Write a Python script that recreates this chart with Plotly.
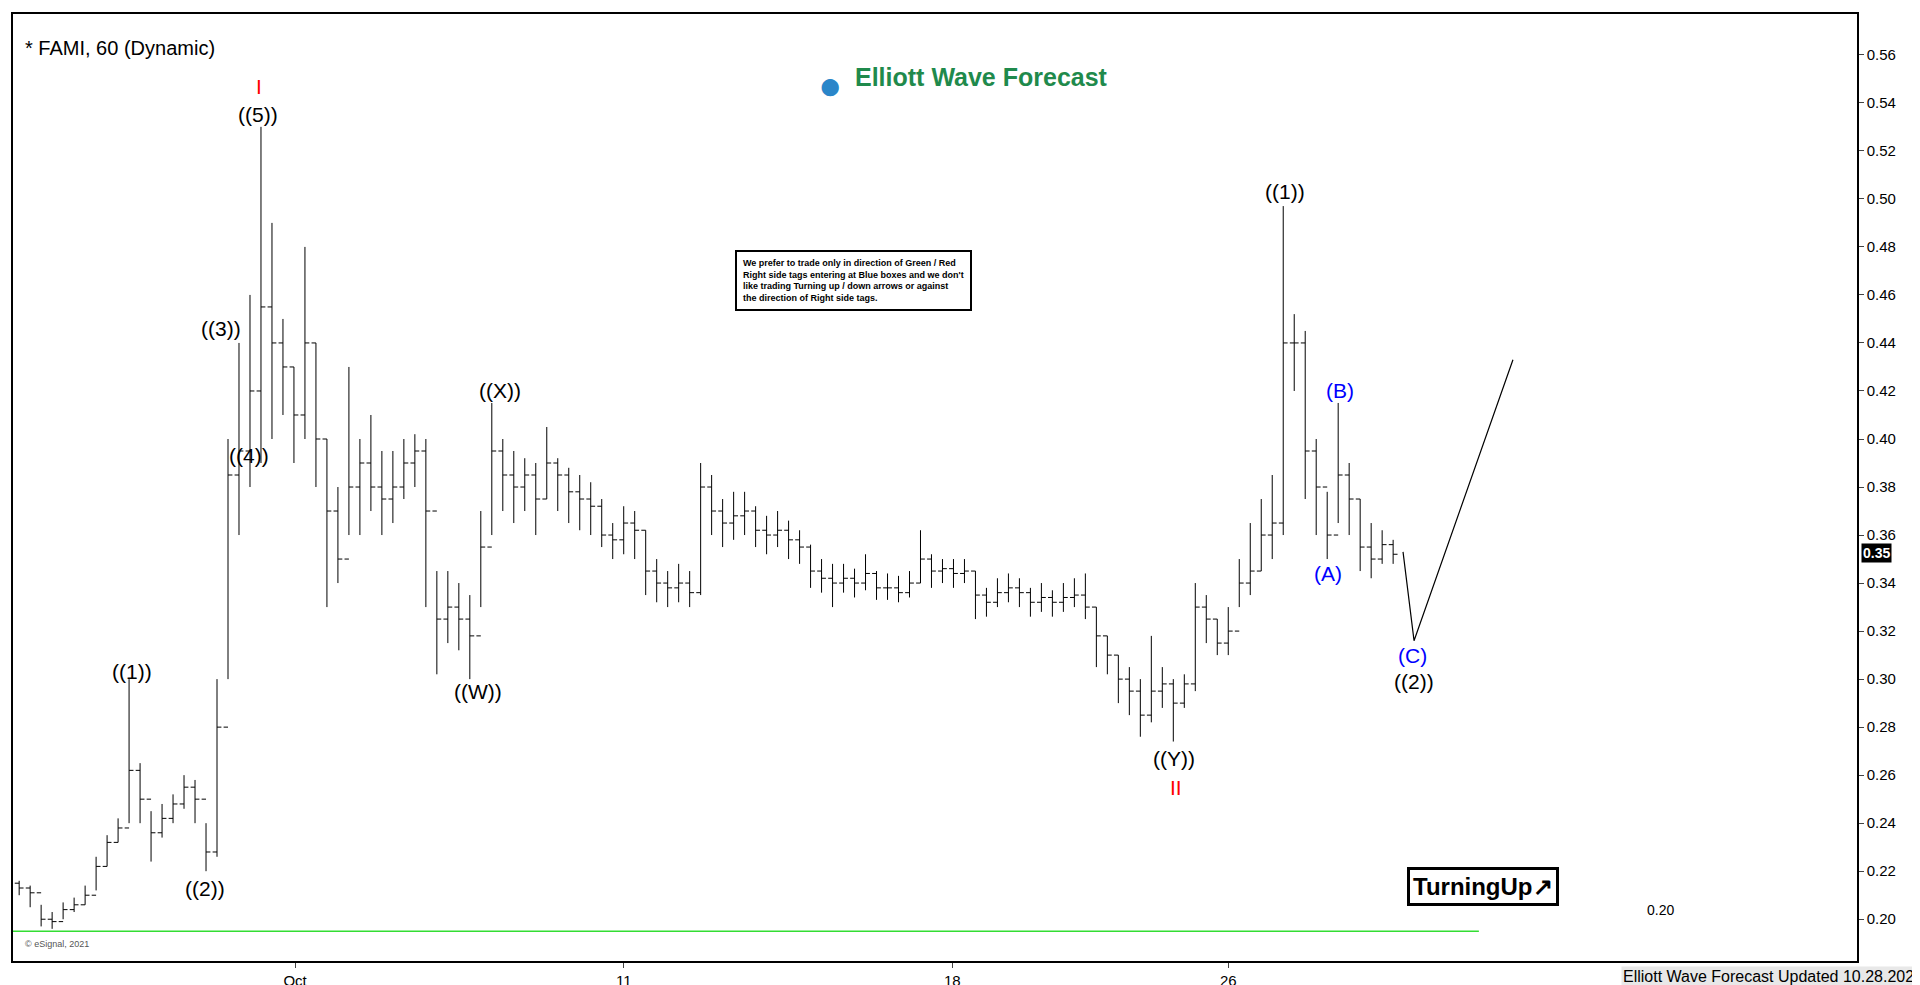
import plotly.graph_objects as go

close = [.213,.211,.200,.199,.204,.206,.210,.222,.232,.238,.262,.250,.236,.242,.248,.255,.250,.228,.280,.385,
.395,.420,.455,.440,.430,.410,.440,.400,.370,.350,.380,.390,.380,.375,.380,.390,.395,.370,.325,.330,
.325,.318,.355,.395,.385,.380,.385,.375,.390,.385,.378,.375,.372,.360,.358,.365,.362,.345,.340,.338,
.340,.336,.380,.370,.365,.368,.370,.362,.360,.362,.358,.355,.345,.342,.340,.342,.340,.344,.338,.338,
.336,.340,.350,.345,.346,.344,.345,.335,.332,.336,.338,.336,.332,.334,.332,.334,.335,.330,.318,.310,
.300,.295,.285,.295,.298,.290,.298,.330,.325,.315,.320,.340,.345,.360,.365,.440,.440,.395,.380,.360,
.385,.375,.355,.350,.356,.352]
high = [.216,.214,.206,.203,.207,.209,.214,.226,.235,.242,.300,.265,.245,.248,.252,.260,.258,.240,.300,.400,
.440,.460,.530,.490,.450,.430,.480,.440,.400,.380,.430,.400,.410,.395,.395,.400,.402,.400,.345,.345,
.340,.335,.370,.415,.400,.395,.392,.390,.405,.392,.388,.385,.382,.375,.365,.372,.370,.362,.350,.345,
.348,.345,.390,.385,.375,.378,.378,.372,.368,.370,.366,.362,.356,.350,.348,.348,.346,.352,.345,.344,
.343,.345,.362,.352,.350,.350,.350,.345,.338,.342,.344,.342,.338,.340,.337,.340,.342,.344,.330,.318,
.310,.305,.300,.318,.305,.300,.302,.340,.335,.325,.330,.350,.365,.375,.385,.497,.452,.445,.400,.378,
.415,.390,.375,.365,.362,.358]
low = [.210,.205,.197,.196,.200,.203,.206,.212,.222,.232,.240,.240,.224,.234,.240,.246,.240,.220,.226,.300,
.360,.380,.390,.400,.410,.390,.400,.380,.330,.340,.360,.360,.370,.360,.365,.375,.380,.330,.302,.315,
.312,.300,.330,.360,.370,.365,.370,.360,.375,.370,.365,.362,.360,.355,.350,.352,.350,.335,.332,.330,
.332,.330,.335,.360,.355,.358,.360,.355,.352,.355,.350,.348,.338,.336,.330,.336,.334,.337,.333,.333,
.332,.334,.340,.338,.340,.338,.340,.325,.326,.330,.332,.330,.326,.328,.326,.328,.330,.325,.305,.302,
.290,.285,.276,.282,.288,.274,.288,.295,.315,.310,.310,.330,.335,.345,.350,.360,.420,.375,.360,.350,
.365,.360,.345,.342,.348,.348]
opens = [.215] + close[:-1]
idx = list(range(len(close)))

tick_pos = [25.1, 55.0, 84.9, 110.0]
tick_text = ["Oct", "11", "18", "26"]
yticks = [0.20,0.22,0.24,0.26,0.28,0.30,0.32,0.34,0.36,0.38,0.40,0.42,0.44,0.46,0.48,0.50,0.52,0.54,0.56]

labels = [
    (21.8, .547, "I", "red"), (21.7, .535, "((5))", "black"), (18.4, .446, "((3))", "black"),
    (20.9, .393, "((4))", "black"), (10.3, .303, "((1))", "black"), (16.9, .213, "((2))", "black"),
    (41.7, .295, "((W))", "black"), (43.7, .420, "((X))", "black"), (105.1, .267, "((Y))", "black"),
    (105.2, .255, "II", "red"), (115.2, .503, "((1))", "black"), (120.2, .420, "(B)", "blue"),
    (119.1, .344, "(A)", "blue"), (126.8, .310, "(C)", "blue"), (126.9, .299, "((2))", "black"),
]
proj_x = [125.9, 126.9, 135.9]
proj_y = [0.353, 0.316, 0.433]

fig = go.Figure()
fig.add_trace(go.Ohlc(x=idx, open=opens, high=high, low=low, close=close,
                      increasing_line_color="black", decreasing_line_color="black",
                      line_width=1, tickwidth=0.4, showlegend=False, hoverinfo="skip"))
fig.add_trace(go.Scatter(x=proj_x, y=proj_y, mode="lines", line=dict(color="black", width=1.2), showlegend=False))
fig.add_trace(go.Scatter(x=[-0.6, 132.8], y=[0.195, 0.195], mode="lines", line=dict(color="#33dd33", width=1.5), showlegend=False))

for x, y, t, c in labels:
    fig.add_annotation(x=x, y=y, text=t, showarrow=False, font=dict(size=21, color=c, family="Arial"))

def px(x): return x / 1510
def py(y): return (778 - y) / 770

fig.add_annotation(xref="paper", yref="paper", x=px(8), y=py(25), xanchor="left", text="* FAMI, 60 (Dynamic)",
                   showarrow=False, font=dict(size=20, color="black", family="Arial"))
fig.add_annotation(xref="paper", yref="paper", x=px(688), y=py(46), xanchor="left", text="<b>Elliott Wave Forecast</b>",
                   showarrow=False, font=dict(size=25, color="#1f8a4c", family="Arial"))
fig.add_annotation(xref="paper", yref="paper", x=px(669), y=py(46), text="●",
                   showarrow=False, font=dict(size=40, color="#2a86c9", family="Arial"))
fig.add_annotation(xref="paper", yref="paper", x=px(591), y=py(200), xanchor="left", align="left",
                   text="<b>We prefer to trade only in direction of Green / Red<br>Right side tags entering at Blue boxes and we don't<br>like trading Turning up / down arrows or against<br>the direction of Right side tags.</b>",
                   showarrow=False, font=dict(size=9, color="black", family="Arial"),
                   bordercolor="black", borderwidth=2, borderpad=6, bgcolor="white")
fig.add_annotation(xref="paper", yref="paper", x=px(1266), y=py(733), text="<b>TurningUp↗</b>",
                   showarrow=False, font=dict(size=24, color="black", family="Arial"),
                   bordercolor="black", borderwidth=3, borderpad=3, bgcolor="white")
fig.add_annotation(xref="paper", yref="paper", x=px(1336), y=py(745), xanchor="left", text="0.20",
                   showarrow=False, font=dict(size=14, color="black", family="Arial"))
fig.add_annotation(xref="paper", yref="paper", x=px(1566), y=py(791), xanchor="right", yanchor="middle",
                   text="Elliott Wave Forecast Updated 10.28.2021", showarrow=False,
                   font=dict(size=16, color="black", family="Arial"), bgcolor="#e8e8e8")
fig.add_annotation(xref="paper", yref="paper", x=px(1513), y=py(446), xanchor="left", text="<b>0.35</b>",
                   showarrow=False, font=dict(size=14, color="white", family="Arial"), bgcolor="black")
fig.add_annotation(xref="paper", yref="paper", x=px(8), y=py(770), xanchor="left", text="© eSignal, 2021",
                   showarrow=False, font=dict(size=9, color="#555", family="Arial"))

fig.update_layout(width=1920, height=985, paper_bgcolor="white", plot_bgcolor="white",
                  margin=dict(l=3, r=71, t=6, b=32),
                  xaxis=dict(range=[-0.56, 167.2], rangeslider=dict(visible=False), tickvals=tick_pos,
                             ticktext=tick_text, showgrid=False, showline=True, linecolor="black", mirror=True,
                             linewidth=1.5, ticks="outside", tickfont=dict(size=15, family="Arial", color="black"),
                             zeroline=False),
                  yaxis=dict(range=[0.1826, 0.577], side="right", tickvals=yticks, tickformat=".2f",
                             showgrid=False, showline=True, linecolor="black", mirror=True, linewidth=1.5,
                             ticks="outside", tickfont=dict(size=15, family="Arial", color="black"),
                             zeroline=False))
fig.write_html("out.html")
